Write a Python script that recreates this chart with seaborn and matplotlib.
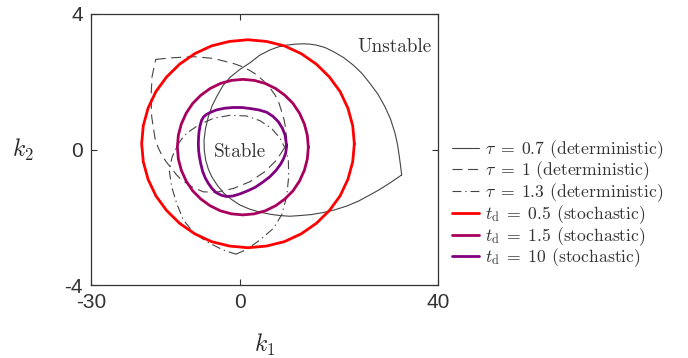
import pandas as pd
import matplotlib
matplotlib.use("Agg")
import matplotlib.pyplot as plt
import seaborn as sns

# boundary curves (k1, k2)
tau07_k1 = [32.67, 32.45, 32.20, 31.85, 31.33, 30.45, 29.31, 27.9, 26.28, 24.7, 22.92, 21.0,
            18.89, 17.2, 15.52, 14.2, 12.84, 11.2, 9.47, 7.8, 6.11, 4.0, 2.08, 0.0, -1.96,
            -3.4, -4.65, -5.6, -6.33, -6.9, -7.20, -7.15, -6.87, -6.35, -5.66, -4.5, -3.20,
            -1.6, 0.06, 2.0, 4.09, 6.1, 8.13, 10.1, 12.16, 14.5, 16.87, 19.2, 21.58, 24.0,
            26.28, 28.0, 29.65, 31.2]
tau07_k2 = [-0.75, -0.48, -0.21, 0.14, 0.48, 0.89, 1.26, 1.63, 1.95, 2.24, 2.49, 2.71,
            2.89, 3.01, 3.08, 3.11, 3.12, 3.11, 3.08, 3.03, 2.94, 2.78, 2.56, 2.36, 2.13,
            1.88, 1.56, 1.28, 0.97, 0.62, 0.28, -0.02, -0.31, -0.57, -0.80, -1.06, -1.29,
            -1.48, -1.64, -1.76, -1.85, -1.91, -1.95, -1.97, -1.95, -1.92, -1.86, -1.78, -1.67,
            -1.52, -1.34, -1.20, -1.05, -0.90]

tau1_k1 = [-16.95, -13.39, -9.35, -5.32, -1.29, 0.45, 2.08, 3.5, 4.77, 6.0, 7.12, 7.9, 8.46,
           8.95, 9.27, 9.47, 8.93, 7.46, 5.10, 2.08, -1.29, -4.65, -7.34, -9.69, -11.71,
           -12.8, -13.72, -14.8, -15.74, -16.5, -17.09, -17.76, -17.89, -17.69]
tau1_k2 = [2.66, 2.71, 2.74, 2.69, 2.54, 2.45, 2.33, 2.2, 2.03, 1.84, 1.61, 1.38, 1.12,
           0.88, 0.62, 0.28, 0.03, -0.31, -0.65, -0.95, -1.15, -1.26, -1.25, -1.10, -0.90,
           -0.74, -0.56, -0.37, -0.16, 0.07, 0.33, 0.97, 1.56, 2.15]

tau13_k1 = [-0.75, 1.40, 4.09, 6.78, 8.46, 9.47, 9.88, 9.81, 9.20, 8.13, 6.45, 4.09, 1.40,
            -1.96, -5.32, -8.35, -10.70, -11.7, -12.58, -13.2, -13.72, -14.19, -13.72,
            -12.72, -11.37, -9.35, -6.66, -3.30]
tau13_k2 = [-3.09, -2.95, -2.67, -2.33, -1.93, -1.39, -0.80, -0.31, 0.03, 0.33, 0.62, 0.85,
            0.99, 1.01, 0.92, 0.72, 0.48, 0.31, 0.13, -0.07, -0.26, -0.65, -1.10, -1.59,
            -2.08, -2.45, -2.72, -2.97]

td05_k1 = [23.12, 22.80, 21.83, 20.25, 18.10, 15.46, 12.40, 9.01, 5.40, 1.67, -2.06, -5.67,
           -9.06, -12.12, -14.76, -16.91, -18.49, -19.46, -19.78, -19.46, -18.49, -16.91,
           -14.76, -12.12, -9.06, -5.67, -2.06, 1.67, 5.40, 9.01, 12.40, 15.46, 18.10,
           20.25, 21.83, 22.80]
td05_k2 = [0.17, 0.70, 1.22, 1.71, 2.14, 2.52, 2.83, 3.06, 3.19, 3.24, 3.19, 3.06, 2.83,
           2.52, 2.14, 1.71, 1.22, 0.70, 0.17, -0.36, -0.88, -1.37, -1.80, -2.18, -2.49,
           -2.72, -2.85, -2.90, -2.85, -2.72, -2.49, -2.18, -1.80, -1.37, -0.88, -0.36]

td15_k1 = [13.84, 13.64, 13.05, 12.07, 10.75, 9.12, 7.24, 5.15, 2.93, 0.63, -1.67, -3.89,
           -5.98, -7.86, -9.49, -10.81, -11.79, -12.38, -12.58, -12.38, -11.79, -10.81,
           -9.49, -7.86, -5.98, -3.89, -1.67, 0.63, 2.93, 5.15, 7.24, 9.12, 10.75, 12.07,
           13.05, 13.64]
td15_k2 = [0.07, 0.42, 0.75, 1.07, 1.36, 1.60, 1.80, 1.95, 2.04, 2.07, 2.04, 1.95, 1.80,
           1.60, 1.36, 1.07, 0.75, 0.42, 0.07, -0.28, -0.61, -0.93, -1.22, -1.46, -1.66,
           -1.81, -1.90, -1.93, -1.90, -1.81, -1.66, -1.46, -1.22, -0.93, -0.61, -0.28]

td10_k1 = [9.47, 9.14, 8.6, 7.79, 6.7, 5.44, 3.8, 2.08, 0.4, -1.29, -3.0, -4.65, -5.7, -6.66,
           -7.25, -7.67, -8.0, -8.21, -8.3, -8.35, -8.3, -8.14, -7.85, -7.47, -6.95, -6.33,
           -5.6, -4.78, -3.7, -2.63, -1.3, 0.06, 1.6, 3.08, 4.6, 6.11, 7.3, 8.26, 8.85, 9.27]
td10_k2 = [0.11, 0.43, 0.63, 0.82, 0.98, 1.10, 1.17, 1.21, 1.24, 1.24, 1.22, 1.17, 1.11,
           1.04, 0.97, 0.87, 0.70, 0.52, 0.35, 0.18, -0.02, -0.21, -0.43, -0.65, -0.84,
           -1.00, -1.15, -1.27, -1.35, -1.39, -1.37, -1.31, -1.22, -1.12, -0.97, -0.80,
           -0.62, -0.43, -0.27, -0.11]

labels = [r"$\tau\;=\;0.7$ (deterministic)", r"$\tau\;=\;1$ (deterministic)",
          r"$\tau\;=\;1.3$ (deterministic)", r"$t_\mathrm{d}\;=\;0.5$ (stochastic)",
          r"$t_\mathrm{d}\;=\;1.5$ (stochastic)", r"$t_\mathrm{d}\;=\;10$ (stochastic)"]

sns.set_style("ticks")
plt.rcParams["mathtext.fontset"] = "cm"
plt.rcParams["axes.unicode_minus"] = False
plt.rcParams["font.family"] = ["Liberation Sans", "DejaVu Sans"]

fig = plt.figure(figsize=(6.88, 3.58), dpi=100)
ax = fig.add_axes([0.1323, 0.2039, 0.5043, 0.757])

gray = "#444444"
curves = [
    (tau07_k1, tau07_k2, gray, 0.8, "-"),
    (tau1_k1, tau1_k2, gray, 0.8, (0, (9, 5))),
    (tau13_k1, tau13_k2, gray, 0.8, (0, (8, 3.5, 1.2, 3.5))),
    (td05_k1, td05_k2, "#ff0000", 2.0, "-"),
    (td15_k1, td15_k2, "#a8005c", 2.0, "-"),
    (td10_k1, td10_k2, "#80007f", 2.0, "-"),
]
for (xs, ys, col, lw, ls), lab in zip(curves, labels):
    # close the loop
    df = pd.DataFrame({"k1": xs + xs[:1], "k2": ys + ys[:1]})
    sns.lineplot(data=df, x="k1", y="k2", sort=False, estimator=None, ax=ax,
                 color=col, linewidth=lw, linestyle=ls, label=lab)

ax.set_xlim(-30, 40)
ax.set_ylim(-4, 4)
ax.set_xticks([-30, 0, 40])
ax.set_yticks([-4, 0, 4])
ax.tick_params(direction="in", length=4, width=0.8, top=True, right=True,
               labelsize=15, colors="#333333", pad=6)
for s in ax.spines.values():
    s.set_color("#333333")
    s.set_linewidth(0.9)

ax.set_xlabel(r"$k_1$", fontsize=17, labelpad=14)
ax.set_ylabel(r"$k_2$", fontsize=17, rotation=0, labelpad=30, va="center")

ax.text(31.3, 3.03, "Unstable", family="cmr10", fontsize=13.8, color="#333333",
        ha="center", va="center")
ax.text(0.0, -0.07, "Stable", family="cmr10", fontsize=13.8, color="#333333",
        ha="center", va="center")

leg = ax.legend(loc="center left", bbox_to_anchor=(1.02, 0.30), frameon=False,
                prop={"family": "cmr10", "size": 12.7}, handlelength=1.55,
                handletextpad=0.3, labelspacing=-0.05, borderaxespad=0)
for t in leg.get_texts():
    t.set_color("#333333")

fig.savefig("out.png", dpi=100)
